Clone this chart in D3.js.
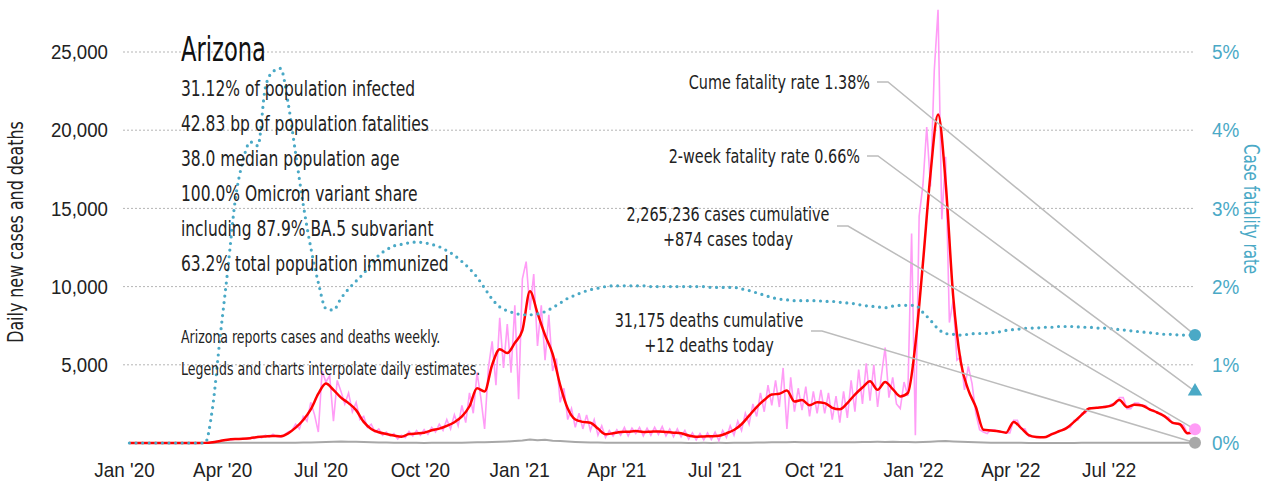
<!DOCTYPE html>
<html lang="en">
<head>
  <meta charset="UTF-8" />
  <title>Arizona - cases, deaths and fatality rate</title>
  <script src="https://d3js.org/d3.v7.min.js"></script>
  <style>
    body { margin: 0; background: #fff; }
    svg { display: block; font-family: "Liberation Sans Narrow", "DejaVu Sans Condensed", "Arial Narrow", sans-serif; }
    .tick text { fill: #222; font-size: 21px; }
    .grid line { stroke: #b5b5b5; stroke-width: 1; stroke-dasharray: 2,2; }
    .stat { font-size: 21px; fill: #222; }
    .note { font-size: 17px; fill: #222; }
    .ann { font-size: 20px; fill: #222; }
    .leader { fill: none; stroke: #bcbcbc; stroke-width: 1.5; }
  </style>
</head>
<body>

<svg width="1281" height="482"></svg>

<script>
  // weekly series, first point 2020-01-06, last 2022-09-19
  const avg7 = [
    0,0,0,0,0,0,0,0,0,
    2,8,45,130,210,250,270,310,380,420,450,430,
    620,980,1470,2150,3150,3800,3400,2900,2550,2100,
    1350,900,690,580,480,400,570,610,660,810,
    920,1100,1330,1700,2350,3500,3300,5000,6000,5750,
    6400,7200,9700,8300,6900,5700,3700,2200,1500,1350,
    1300,920,560,620,700,720,760,700,720,740,
    700,660,620,480,400,420,430,460,620,830,
    1200,1750,2300,2750,3100,3150,3350,2650,2750,2420,
    2600,2550,2250,2150,2550,3100,3550,3950,3400,3900,
    3450,2980,3200,6300,11500,17200,21000,16700,9400,5200,
    3400,2300,850,800,750,660,1350,950,500,380,
    360,550,750,950,1350,1800,2200,2250,2300,2400,
    2750,2300,2450,2400,2150,1950,1700,1300,1200,620,760
  ];

  const deaths = [
    0,0,0,0,0,0,0,0,0,0,0,
    2,10,15,20,22,20,18,20,20,18,20,
    20,25,30,40,60,80,90,85,75,
    60,45,35,30,20,15,12,10,
    8,10,12,10,12,20,30,40,45,
    60,80,100,130,160,220,180,200,150,
    120,90,70,50,35,25,18,15,
    12,10,10,10,10,10,12,10,
    10,8,8,10,8,10,8,12,15,
    20,25,30,40,50,55,60,55,50,
    50,55,45,50,45,55,60,70,
    75,70,80,70,60,50,60,80,110,
    120,100,80,60,40,30,20,15,
    12,10,10,8,6,5,5,6,8,
    8,10,12,15,15,18,20,20,
    20,18,18,15,15,12,12,10,12
  ];

  // case fatality rate, percent
  const cfr = [
    0,0,0,0,0,0,0,0,0,0,0,
    0.45,1.35,2.2,3.1,3.6,3.85,3.8,4.55,4.75,4.79,
    4.35,3.7,3.05,2.5,2.05,1.72,1.7,1.85,1.97,2.07,
    2.17,2.29,2.4,2.47,2.52,2.54,2.56,2.57,2.56,2.54,
    2.51,2.46,2.4,2.32,2.23,2.12,1.98,1.84,1.74,1.69,
    1.66,1.64,1.64,1.65,1.68,1.73,1.79,1.85,1.89,1.93,
    1.96,1.98,2.0,2.01,2.01,2.01,2.01,2.01,2.0,2.0,
    2.0,2.0,2.0,2.0,2.0,2.0,1.99,1.99,1.99,1.99,
    1.97,1.95,1.92,1.89,1.86,1.84,1.83,1.82,1.82,1.82,
    1.82,1.81,1.81,1.80,1.79,1.78,1.76,1.75,1.74,1.73,
    1.75,1.76,1.76,1.76,1.67,1.57,1.46,1.40,1.39,1.38,
    1.39,1.40,1.40,1.41,1.42,1.44,1.45,1.46,1.47,1.47,
    1.48,1.48,1.49,1.49,1.49,1.48,1.48,1.47,1.47,1.46,
    1.45,1.44,1.43,1.42,1.41,1.40,1.39,1.39,1.38,1.38,1.38
  ];

  // reported daily cases, sampled twice a week
  const rawCases = [
    0,0,0,0,0,0,0,0,0,0,0,0,0,0,0,0,0,0,0,5,
    10,25,50,90,140,170,220,200,260,240,
    290,250,340,280,420,330,500,380,560,400,
    380,520,700,800,1200,900,1700,1400,2600,1800,
    700,4600,3900,4300,1400,4000,3300,2500,3200,2000,
    2600,1500,1700,1000,1200,700,900,500,700,450,
    600,250,500,350,750,450,800,500,850,550,
    1000,700,1200,800,1500,900,1800,1100,2400,1300,
    3200,1900,4500,2900,900,4800,6500,3700,8000,4800,
    7600,4500,8800,2800,10500,11600,8500,10800,6200,8800,
    5300,8200,4600,5400,2600,3500,1500,2200,1000,1900,
    900,1800,800,1500,500,1100,350,800,450,850,
    500,1000,450,950,600,1000,450,950,500,1000,
    550,1050,450,900,400,900,400,800,250,650,
    200,600,200,650,220,700,150,800,350,1100,
    500,1400,800,1900,1200,2500,1700,3200,2000,3700,
    2400,4000,2300,4800,900,4200,2000,3500,2100,3600,
    1700,3300,1900,3400,1900,3200,1500,3000,1300,3300,
    1600,4000,2000,4700,2500,5100,2700,5000,2300,4300,
    6100,2900,4200,2500,2200,3900,3000,13400,500,14500,
    16500,20200,16400,23800,27700,14300,18300,7700,9100,5300,
    5500,3400,4900,3800,1900,850,700,600,850,850,
    700,700,650,650,1450,1450,900,900,420,420,
    360,360,380,380,600,600,800,800,1000,1000,
    1450,1450,1900,1900,2250,2250,2250,2250,2350,2350,
    2500,2500,2900,2900,2200,2200,2550,2550,2400,2400,
    2100,2100,1900,1900,1650,1650,1250,1250,1150,1150,
    600,600,874
  ];

  const caseTicks = [5000, 10000, 15000, 20000, 25000];
  const pctTicks = [0, 1, 2, 3, 4, 5];

  const stats = [
    "31.12% of population infected",
    "42.83 bp of population fatalities",
    "38.0 median population age",
    "100.0% Omicron variant share",
    "including 87.9% BA.5 subvariant",
    "63.2% total population immunized"
  ];
  const notes = [
    "Arizona reports cases and deaths weekly.",
    "Legends and charts interpolate daily estimates."
  ];

  const latest = { cfr: 1.38, cfr14: 0.66, cases: 874, deaths: 12 };

  const start = new Date(2020, 0, 6);
  const weekDate = i => d3.timeDay.offset(start, 7 * i);
  const halfDate = i => new Date(start.getTime() + i * 3.5 * 864e5);
  const endDate = weekDate(avg7.length - 1);

  const svg = d3.select("svg");
  const teal = "#4aa9c6", pink = "#ff9cf6", red = "#ff0000", grey = "#a8a8a8";

  // the installed fonts are wider than the original condensed face
  const squeeze = (sel, k, ax) => sel.attr("transform", function () {
    const a = ax !== undefined ? ax : (+this.getAttribute("x") || 0);
    return `translate(${a},0) scale(${k},1) translate(${-a},0)`;
  });

  const x = d3.scaleTime()
    .domain([new Date(2020, 0, 1), endDate])
    .range([124, 1195]);
  const y = d3.scaleLinear().domain([0, 25000]).range([443, 52]);
  const yPct = d3.scaleLinear().domain([0, 5]).range([443, 52]);

  // gridlines
  svg.append("g").attr("class", "grid")
    .selectAll("line").data(caseTicks).enter().append("line")
    .attr("x1", 123).attr("x2", 1194)
    .attr("y1", d => y(d)).attr("y2", d => y(d));

  // axes
  svg.append("g")
    .attr("transform", "translate(110,0)")
    .call(d3.axisLeft(y).tickValues(caseTicks).tickFormat(d3.format(",")).tickSize(0).tickPadding(2))
    .call(g => g.select(".domain").remove())
    .selectAll("text").call(squeeze, 0.89);

  svg.append("g")
    .attr("transform", "translate(1209,0)")
    .call(d3.axisRight(yPct).tickValues(pctTicks).tickFormat(d => d + "%").tickSize(0).tickPadding(3))
    .call(g => g.select(".domain").remove())
    .selectAll("text").style("fill", teal).call(squeeze, 0.9);

  svg.append("g")
    .attr("transform", "translate(0,443)")
    .call(d3.axisBottom(x).ticks(d3.timeMonth.every(3)).tickFormat(d3.timeFormat("%b '%y")).tickSize(0).tickPadding(19))
    .call(g => g.select(".domain").remove())
    .selectAll("text").call(squeeze, 0.9, 0);

  svg.append("text")
    .attr("transform", "translate(23,232) rotate(-90) scale(0.84,1)")
    .attr("text-anchor", "middle")
    .style("font-size", "21px").style("fill", "#222")
    .text("Daily new cases and deaths");

  svg.append("text")
    .attr("transform", "translate(1244,209) rotate(90) scale(0.8,1)")
    .attr("text-anchor", "middle")
    .style("font-size", "21px").style("fill", teal)
    .text("Case fatality rate");

  // series
  const lineW = d3.line().x((d, i) => x(weekDate(i))).y(d => y(d));
  const lineH = d3.line().x((d, i) => x(halfDate(i))).y(d => y(d));

  svg.append("path").datum(deaths)
    .attr("d", lineW).attr("fill", "none").attr("stroke", grey).attr("stroke-width", 2);

  svg.append("path").datum(rawCases)
    .attr("d", lineH).attr("fill", "none").attr("stroke", pink).attr("stroke-width", 1.6);

  svg.append("path").datum(avg7)
    .attr("d", lineW.curve(d3.curveMonotoneX)).attr("fill", "none")
    .attr("stroke", red).attr("stroke-width", 2.5);

  svg.append("path").datum(cfr)
    .attr("d", d3.line().x((d, i) => x(weekDate(i))).y(d => yPct(d)).curve(d3.curveMonotoneX))
    .attr("fill", "none").attr("stroke", teal).attr("stroke-width", 3.2)
    .attr("stroke-linecap", "round").attr("stroke-dasharray", "0,6.6");

  // text block
  svg.append("text").attr("x", 181).attr("y", 61)
    .style("font-size", "34px").style("fill", "#111").text("Arizona")
    .call(squeeze, 0.74);

  svg.selectAll(".stat").data(stats).enter().append("text")
    .attr("class", "stat").attr("x", 181).attr("y", (d, i) => 96 + i * 35).text(d => d)
    .call(squeeze, 0.82);

  svg.selectAll(".note").data(notes).enter().append("text")
    .attr("class", "note").attr("x", 181).attr("y", (d, i) => 343 + i * 32).text(d => d)
    .call(squeeze, 0.82);

  // end markers and leaders
  const xe = x(endDate);
  const ends = {
    cfr: [xe, yPct(latest.cfr)],
    cfr14: [xe, yPct(latest.cfr14)],
    cases: [xe, y(latest.cases)],
    deaths: [xe, y(latest.deaths)]
  };

  const labels = [
    { lines: ["Cume fatality rate " + latest.cfr.toFixed(2) + "%"], x: 870, y: 89, anchor: "end", lx: 877, ly: 82, to: ends.cfr },
    { lines: ["2-week fatality rate " + latest.cfr14.toFixed(2) + "%"], x: 860, y: 163, anchor: "end", lx: 867, ly: 156, to: ends.cfr14 },
    { lines: ["2,265,236 cases cumulative", "+" + d3.format(",")(latest.cases) + " cases today"], x: 728, y: 221, anchor: "middle", lx: 837, ly: 226, to: ends.cases },
    { lines: ["31,175 deaths cumulative", "+" + latest.deaths + " deaths today"], x: 709, y: 327, anchor: "middle", lx: 811, ly: 331, to: ends.deaths }
  ];

  labels.forEach(l => {
    const t = svg.append("text").attr("class", "ann").attr("text-anchor", l.anchor);
    l.lines.forEach((s, i) => t.append("tspan").attr("x", l.x).attr("y", l.y + i * 25).text(s));
    t.call(squeeze, 0.8, l.x);
    svg.append("path").attr("class", "leader")
      .attr("d", `M${l.lx},${l.ly}H${l.lx + 11}L${l.to[0]},${l.to[1]}`);
  });

  svg.append("circle").attr("cx", ends.deaths[0]).attr("cy", ends.deaths[1]).attr("r", 6).attr("fill", grey);
  svg.append("circle").attr("cx", ends.cases[0]).attr("cy", ends.cases[1]).attr("r", 6).attr("fill", pink);
  svg.append("circle").attr("cx", ends.cfr[0]).attr("cy", ends.cfr[1]).attr("r", 6).attr("fill", teal);
  svg.append("path")
    .attr("transform", `translate(${ends.cfr14[0]},${ends.cfr14[1]})`)
    .attr("d", d3.symbol(d3.symbolTriangle, 90)).attr("fill", teal);
</script>

</body>
</html>
